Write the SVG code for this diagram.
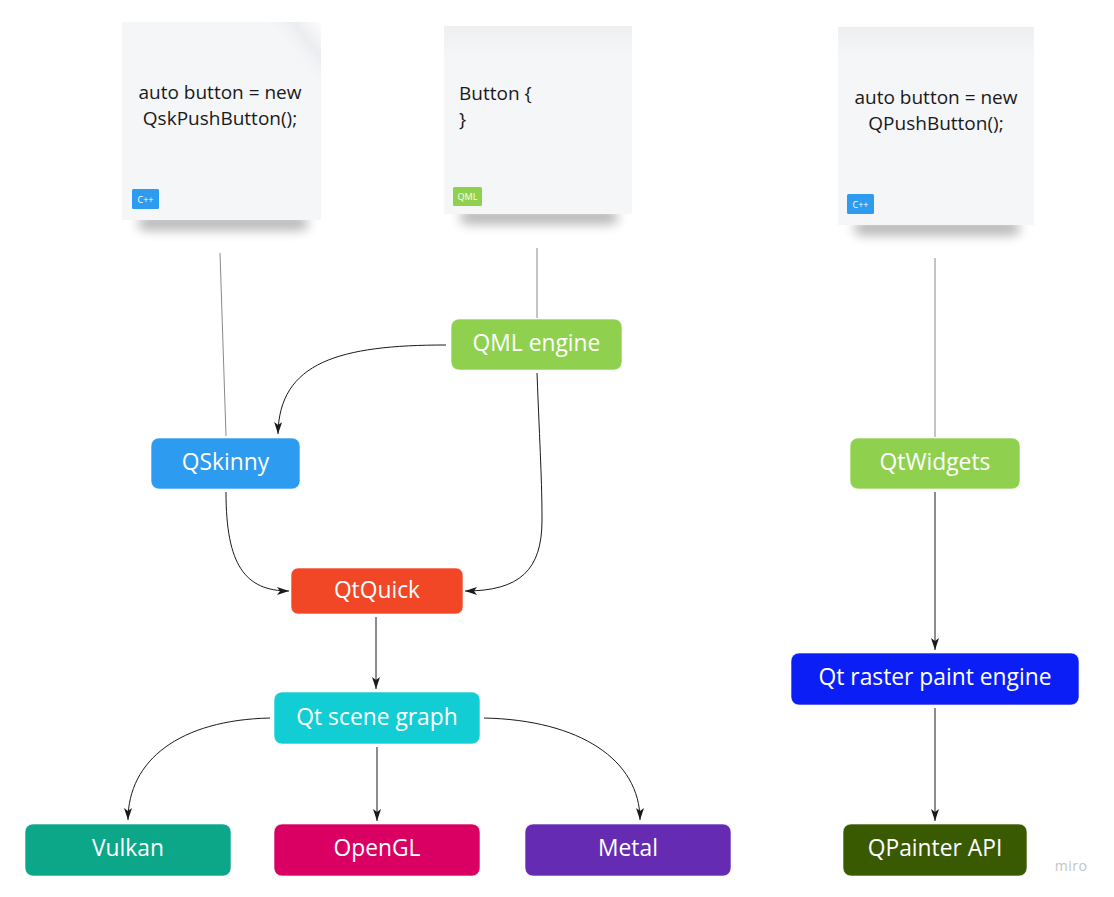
<svg xmlns="http://www.w3.org/2000/svg" width="1114" height="897" viewBox="0 0 1114 897">
<defs>
<style>
.node text{font-family:"Open Sans","Noto Sans",sans-serif;font-size:22.8px;fill:#ffffff;text-anchor:middle;dominant-baseline:central}
.note text{font-family:"Open Sans","Noto Sans",sans-serif;font-size:19px;fill:#1a1a1a}
.note text.tag{font-size:9px;fill:#ffffff;text-anchor:middle;dominant-baseline:central}
.paper{fill:#f5f6f8}
.box{stroke:#ffffff;stroke-opacity:0.6;stroke-width:1}
.link{fill:none;stroke:#1a1a1a;stroke-width:1}
.plain{fill:none;stroke:#8a8a8a;stroke-width:1}
</style>
<marker id="arr" viewBox="0 0 12 8" refX="12" refY="4" markerWidth="12" markerHeight="8" markerUnits="userSpaceOnUse" orient="auto">
<path d="M0,0 L12,4 L0,8 L3,4 Z" fill="#1a1a1a"/>
</marker>
<filter id="shadow" x="-20%" y="-100%" width="140%" height="300%">
<feGaussianBlur stdDeviation="6"/>
</filter>
<linearGradient id="curl" x1="1" y1="0" x2="0.6" y2="0.4">
<stop offset="0" stop-color="#ffffff"/>
<stop offset="0.5" stop-color="#e9eaed"/>
<stop offset="1" stop-color="#f5f6f8" stop-opacity="0"/>
</linearGradient>
<linearGradient id="topband" x1="0" y1="0" x2="0" y2="1">
<stop offset="0" stop-color="#eeeff1"/>
<stop offset="1" stop-color="#f5f6f8"/>
</linearGradient>
</defs>
<rect width="1114" height="897" fill="#ffffff"/>

<g id="connectors">
<path class="plain" d="M220,253 L226,436"/>
<path class="plain" d="M537,248 L537,318"/>
<path class="plain" d="M935,258 L935,437"/>
<path class="link" marker-end="url(#arr)" d="M446,345 C 340,345 279,362 278,434"/>
<path class="link" marker-end="url(#arr)" d="M226,492 C 226,565 245,591 289,591"/>
<path class="link" marker-end="url(#arr)" d="M537,373 C 540,450 542,482 542,520 C 542,570 520,591 465,591"/>
<path class="link" marker-end="url(#arr)" d="M376,617 L376,689"/>
<path class="link" marker-end="url(#arr)" d="M270,718 C 180,720 128,760 128,820"/>
<path class="link" marker-end="url(#arr)" d="M377,747 L377,821"/>
<path class="link" marker-end="url(#arr)" d="M484,718 C 580,720 640,760 640,820"/>
<path class="link" marker-end="url(#arr)" d="M935,492 L935,650"/>
<path class="link" marker-end="url(#arr)" d="M935,708 L935,821"/>
</g>

<g id="note-qskinny" class="note">
<rect x="138" y="216" width="170" height="14" rx="7" fill="#000" opacity="0.3" filter="url(#shadow)"/>
<rect class="paper" x="122" y="22" width="199" height="198"/>
<path d="M250,22 L321,22 L321,110 Z" fill="url(#curl)" opacity="0.8"/>
<text x="220" y="99" text-anchor="middle">auto button = new</text>
<text x="220" y="125" text-anchor="middle">QskPushButton();</text>
<rect x="132" y="189" width="27" height="20" rx="1.5" fill="#2d9bf0"/>
<text class="tag" x="145.5" y="199">C++</text>
</g>

<g id="note-qml" class="note">
<rect x="460" y="210" width="158" height="14" rx="7" fill="#000" opacity="0.3" filter="url(#shadow)"/>
<rect class="paper" x="444" y="26" width="188" height="188"/>
<rect x="444" y="26" width="188" height="30" fill="url(#topband)"/>
<text x="459" y="100">Button {</text>
<text x="459" y="126">}</text>
<rect x="453" y="187" width="29" height="19" rx="1.5" fill="#8fd14f"/>
<text class="tag" x="467.5" y="196.5">QML</text>
</g>

<g id="note-qwidgets" class="note">
<rect x="854" y="221" width="166" height="14" rx="7" fill="#000" opacity="0.3" filter="url(#shadow)"/>
<rect class="paper" x="838" y="27" width="196" height="198"/>
<rect x="838" y="27" width="196" height="30" fill="url(#topband)"/>
<text x="936" y="104" text-anchor="middle">auto button = new</text>
<text x="936" y="130" text-anchor="middle">QPushButton();</text>
<rect x="847" y="194" width="27" height="20" rx="1.5" fill="#2d9bf0"/>
<text class="tag" x="860.5" y="204">C++</text>
</g>

<g id="qml-engine" class="node">
<rect class="box" x="451" y="319" width="171" height="51" rx="8" fill="#8fd14f"/>
<text x="536.5" y="342">QML engine</text>
</g>
<g id="qskinny" class="node">
<rect class="box" x="151" y="438" width="149" height="51" rx="8" fill="#2d9bf0"/>
<text x="225.5" y="461">QSkinny</text>
</g>
<g id="qtquick" class="node">
<rect class="box" x="291" y="568" width="172" height="46" rx="7" fill="#f24726"/>
<text x="377" y="589">QtQuick</text>
</g>
<g id="scene-graph" class="node">
<rect class="box" x="274" y="692" width="206" height="52" rx="8" fill="#12cdd4"/>
<text x="377" y="716">Qt scene graph</text>
</g>
<g id="vulkan" class="node">
<rect class="box" x="25" y="824" width="206" height="52" rx="8" fill="#0ca789"/>
<text x="128" y="847">Vulkan</text>
</g>
<g id="opengl" class="node">
<rect class="box" x="274" y="824" width="206" height="52" rx="8" fill="#da0063"/>
<text x="377" y="847">OpenGL</text>
</g>
<g id="metal" class="node">
<rect class="box" x="525" y="824" width="206" height="52" rx="8" fill="#652cb3"/>
<text x="628" y="847">Metal</text>
</g>
<g id="qtwidgets" class="node">
<rect class="box" x="850" y="438" width="170" height="51" rx="8" fill="#8fd14f"/>
<text x="935" y="461">QtWidgets</text>
</g>
<g id="raster" class="node">
<rect class="box" x="791" y="653" width="288" height="52" rx="8" fill="#0a1ef5"/>
<text x="935" y="676">Qt raster paint engine</text>
</g>
<g id="qpainter" class="node">
<rect class="box" x="843" y="824" width="184" height="52" rx="8" fill="#395a00"/>
<text x="935" y="847">QPainter API</text>
</g>

<text x="1071" y="871" text-anchor="middle" font-family="'Open Sans','Noto Sans',sans-serif" font-size="14" fill="#c4c4c4" letter-spacing="0.5">miro</text>
</svg>
